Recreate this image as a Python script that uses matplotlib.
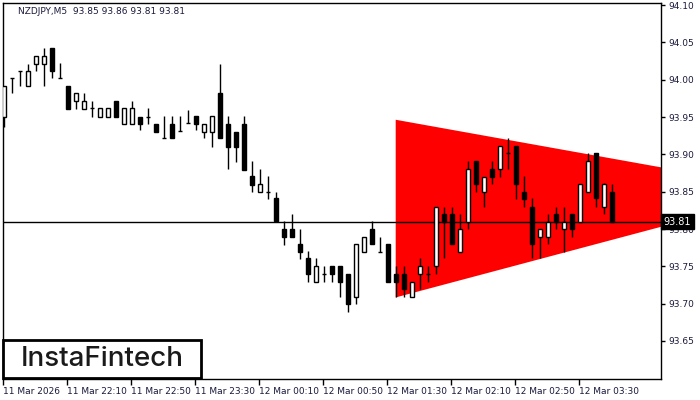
import matplotlib
matplotlib.use("Agg")
import matplotlib.pyplot as plt
from matplotlib.patches import Rectangle
from matplotlib.transforms import blended_transform_factory

# NZDJPY M5 candles, 21:30 .. 03:50
opens = [93.950, 94.002, 94.012, 93.992, 94.021, 94.021, 94.042, 94.002, 93.992, 93.971,
         93.961, 93.962, 93.950, 93.950, 93.971, 93.941, 93.941, 93.950, 93.950, 93.941,
         93.922, 93.941, 93.931, 93.942, 93.951, 93.930, 93.930, 93.982, 93.941, 93.930,
         93.941, 93.871, 93.850, 93.850, 93.841, 93.800, 93.800, 93.780, 93.761, 93.729,
         93.740, 93.750, 93.750, 93.740, 93.709, 93.769, 93.800, 93.769, 93.780, 93.740,
         93.740, 93.709, 93.740, 93.740, 93.750, 93.820, 93.820, 93.769, 93.809, 93.891,
         93.850, 93.880, 93.880, 93.902, 93.911, 93.850, 93.830, 93.789, 93.789, 93.820,
         93.800, 93.820, 93.809, 93.850, 93.902, 93.830, 93.850]
highs = [93.992, 94.002, 94.012, 94.021, 94.032, 94.042, 94.042, 94.022, 93.992, 93.982,
         93.982, 93.971, 93.962, 93.962, 93.971, 93.962, 93.971, 93.950, 93.962, 93.941,
         93.951, 93.951, 93.951, 93.960, 93.951, 93.941, 93.951, 94.021, 93.951, 93.930,
         93.951, 93.891, 93.880, 93.871, 93.850, 93.811, 93.820, 93.800, 93.771, 93.761,
         93.750, 93.750, 93.750, 93.740, 93.780, 93.789, 93.811, 93.789, 93.780, 93.750,
         93.750, 93.729, 93.761, 93.750, 93.830, 93.830, 93.830, 93.820, 93.891, 93.891,
         93.870, 93.891, 93.911, 93.922, 93.911, 93.871, 93.841, 93.800, 93.820, 93.830,
         93.830, 93.820, 93.860, 93.902, 93.902, 93.861, 93.860]
lows = [93.937, 93.982, 93.991, 93.992, 94.012, 93.992, 94.002, 94.002, 93.961, 93.961,
        93.961, 93.950, 93.950, 93.950, 93.950, 93.941, 93.941, 93.933, 93.941, 93.930,
        93.922, 93.922, 93.931, 93.942, 93.932, 93.922, 93.910, 93.922, 93.880, 93.890,
        93.879, 93.850, 93.850, 93.840, 93.811, 93.779, 93.789, 93.760, 93.729, 93.729,
        93.729, 93.729, 93.709, 93.689, 93.700, 93.769, 93.780, 93.769, 93.729, 93.709,
        93.709, 93.709, 93.720, 93.729, 93.740, 93.761, 93.780, 93.769, 93.800, 93.850,
        93.830, 93.860, 93.870, 93.880, 93.840, 93.830, 93.761, 93.761, 93.780, 93.800,
        93.769, 93.789, 93.809, 93.850, 93.830, 93.820, 93.810]
closes = [93.992, 94.002, 94.012, 94.012, 94.032, 94.032, 94.012, 94.002, 93.961, 93.982,
          93.971, 93.962, 93.962, 93.962, 93.950, 93.962, 93.962, 93.941, 93.950, 93.930,
          93.922, 93.922, 93.931, 93.942, 93.941, 93.941, 93.951, 93.922, 93.910, 93.910,
          93.879, 93.859, 93.860, 93.850, 93.811, 93.789, 93.789, 93.769, 93.740, 93.750,
          93.740, 93.740, 93.729, 93.700, 93.780, 93.789, 93.780, 93.769, 93.729, 93.729,
          93.720, 93.729, 93.750, 93.740, 93.830, 93.809, 93.780, 93.800, 93.880, 93.860,
          93.870, 93.870, 93.911, 93.902, 93.860, 93.840, 93.780, 93.800, 93.809, 93.809,
          93.809, 93.800, 93.860, 93.891, 93.841, 93.860, 93.810]

time_labels = ["11 Mar 2026", "11 Mar 22:10", "11 Mar 22:50", "11 Mar 23:30", "12 Mar 00:10",
               "12 Mar 00:50", "12 Mar 01:30", "12 Mar 02:10", "12 Mar 02:50", "12 Mar 03:30"]
price_ticks = [93.65, 93.70, 93.75, 93.80, 93.85, 93.90, 93.95, 94.00, 94.05, 94.10]

# symmetric triangle (bearish) – start/end bar and the two borders
tri_x = [48.9, 82.2]
tri_upper = [93.947, 93.883]
tri_lower = [93.709, 93.804]

last_price = 93.81
title = "NZDJPY,M5  93.85 93.86 93.81 93.81"

plt.rcParams['font.family'] = ['DejaVu Sans']
txt_col = '#1a1a3c'

fig = plt.figure(figsize=(7, 4), dpi=100)
ax = fig.add_axes([3/700, 21/400, 658/700, 376/400])

# triangle
ax.fill_between(tri_x, tri_lower, tri_upper, color='#ff0000', linewidth=0, zorder=1)

# last price line
ax.axhline(last_price, color='black', linewidth=1, zorder=2)

# candles
w = 0.62
for i in range(len(opens)):
    o, h, l, c = opens[i], highs[i], lows[i], closes[i]
    ax.vlines(i, l, h, color='black', linewidth=1, zorder=3)
    if abs(c - o) < 0.0005:
        ax.hlines(o, i - w/2, i + w/2, color='black', linewidth=1, zorder=4)
    else:
        fc = 'white' if c > o else 'black'
        ax.add_patch(Rectangle((i - w/2, min(o, c)), w, abs(c - o), facecolor=fc,
                               edgecolor='black', linewidth=1, zorder=4))

ax.set_xlim(-0.125, 82.125)
ax.set_ylim(93.5991, 94.1027)

ax.yaxis.tick_right()
ax.set_yticks(price_ticks)
ax.set_yticklabels(["%.2f" % p for p in price_ticks])
ax.tick_params(axis='y', direction='out', length=3, width=1, pad=2, labelsize=6.5,
               labelcolor=txt_col)

ax.set_xticks([8*k - 0.12 for k in range(len(time_labels))])
ax.set_xticklabels(time_labels)
ax.tick_params(axis='x', direction='out', length=4, width=1, pad=2, labelsize=6.5,
               labelcolor=txt_col)
for t in ax.get_xticklabels():
    t.set_horizontalalignment('left')

for s in ax.spines.values():
    s.set_color('black')
    s.set_linewidth(1)

# price label at right
tr = blended_transform_factory(ax.transAxes, ax.transData)
ax.text(1.004, last_price, "93.81", transform=tr, color='white', fontsize=7,
        va='center', ha='left', zorder=10,
        bbox=dict(boxstyle='square,pad=0.3', facecolor='black', edgecolor='black'))

fig.text(18/700, 1 - 11/400, title, fontsize=6.5, color=txt_col, va='center', ha='left')

# logo
fig.patches.append(Rectangle((3/700, 22/400), 198/700, 38/400, transform=fig.transFigure,
                             facecolor='white', edgecolor='black', linewidth=2, zorder=5))
fig.text(102/700, 1 - 359/400, "InstaFintech", fontsize=20, family='Inter', weight='medium',
         color='#1a1a1a', ha='center', va='center', zorder=6)

fig.savefig("out.png", dpi=100)
